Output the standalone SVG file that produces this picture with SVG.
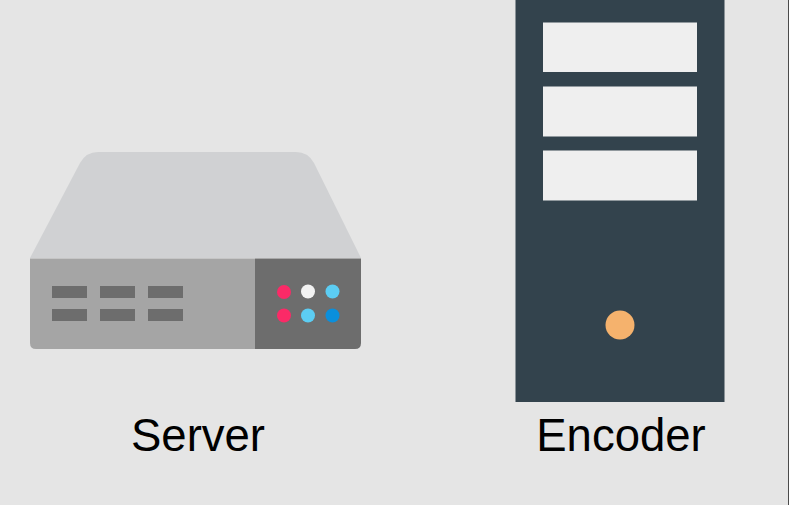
<svg xmlns="http://www.w3.org/2000/svg" width="789" height="505" viewBox="0 0 789 505">
<style>
.lbl{font-family:"Liberation Sans",Arial,sans-serif;font-size:45.500px;fill:#000;text-anchor:middle}
.vent{fill:#6d6d6d}
.bay{fill:#efefef}
</style>
<rect width="789" height="505" fill="#e5e5e5"/>
<rect x="788" y="0" width="1" height="505" fill="#4a4a4a"/>
<g id="server">
<path d="M30 258 L80 163 Q86 152 98 152 L296 152 Q308 152 314 163 L361 258 Z" fill="#d0d1d3"/>
<path d="M30 258.500 H255 V349 H36 Q30 349 30 343 Z" fill="#a5a5a5"/>
<path d="M255 258.500 H361 V343 Q361 349 355 349 H255 Z" fill="#6d6d6d"/>
<rect class="vent" x="52" y="286" width="35" height="12"/>
<rect class="vent" x="100" y="286" width="35" height="12"/>
<rect class="vent" x="148" y="286" width="35" height="12"/>
<rect class="vent" x="52" y="309" width="35" height="12"/>
<rect class="vent" x="100" y="309" width="35" height="12"/>
<rect class="vent" x="148" y="309" width="35" height="12"/>
<circle cx="284" cy="292" r="7" fill="#fb2a67"/>
<circle cx="308" cy="291.500" r="7" fill="#f2f2f2"/>
<circle cx="332.500" cy="291.500" r="7" fill="#5ccdf3"/>
<circle cx="284" cy="315.500" r="7" fill="#fb2a67"/>
<circle cx="308" cy="315.500" r="7" fill="#5ccdf3"/>
<circle cx="332.500" cy="315.500" r="7" fill="#0a8fdc"/>
<text class="lbl" x="198" y="451">Server</text>
</g>
<g id="encoder">
<rect x="515.500" y="-1" width="209" height="403" fill="#33434d"/>
<rect class="bay" x="543" y="22.500" width="154" height="49.500"/>
<rect class="bay" x="543" y="86.500" width="154" height="50"/>
<rect class="bay" x="543" y="150.500" width="154" height="50"/>
<circle cx="620" cy="325" r="14.500" fill="#f5b26d"/>
<text class="lbl" x="621" y="451">Encoder</text>
</g>
<g id="connectors"></g>
</svg>
